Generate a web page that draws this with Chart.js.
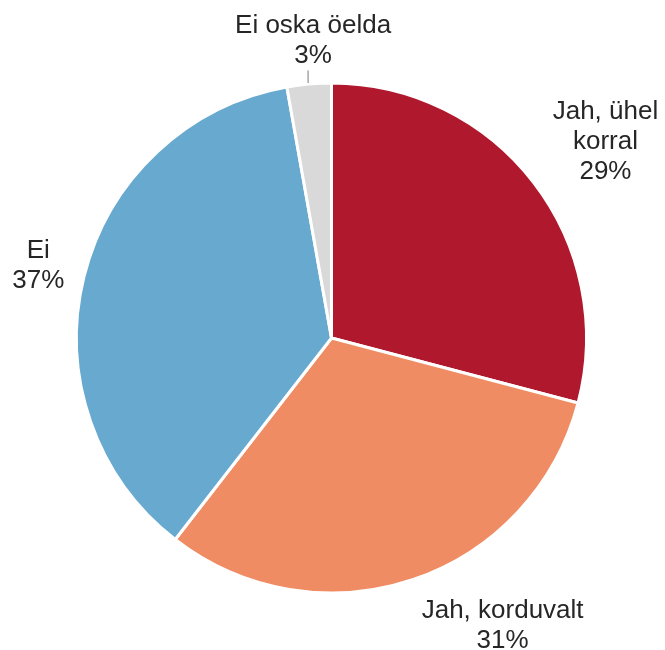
<!DOCTYPE html>
<html>
<head>
    <title>Pie</title>
    <script src="https://cdn.jsdelivr.net/npm/chart.js"></script>
    <style>
        html, body { margin: 0; padding: 0; background: #fff; }
        #wrap { width: 665px; height: 650px; }
    </style>
</head>
<body>
<div id="wrap"><canvas id="pie" width="665" height="650"></canvas></div>
<script>
    // andmed
    const labels = [['Jah, ühel', 'korral'], ['Jah, korduvalt'], ['Ei'], ['Ei oska öelda']];
    const values = [29.1, 31.4, 36.7, 2.8];
    const colors = ['#B0182E', '#F08C63', '#67A9CF', '#D9D9D9'];

    // sildi nihked: [lisanurk kraadides, kaugus keskpunktist]
    const labelPos = [[2, 337], [-12, 335], [0, 302], [1.5, 298]];

    const outsideLabels = {
        id: 'outsideLabels',
        afterDraw(chart) {
            const ctx = chart.ctx;
            const arcs = chart.getDatasetMeta(0).data;
            const total = values.reduce((a, b) => a + b, 0);
            ctx.save();
            ctx.font = '26px "Liberation Sans", Arial, sans-serif';
            ctx.fillStyle = '#262626';
            ctx.textAlign = 'center';
            ctx.textBaseline = 'middle';
            arcs.forEach((arc, i) => {
                const mid = (arc.startAngle + arc.endAngle) / 2 + labelPos[i][0] * Math.PI / 180;
                const cx = arc.x + Math.cos(mid) * labelPos[i][1];
                const cy = arc.y + Math.sin(mid) * labelPos[i][1];
                const lines = labels[i].concat([Math.round(values[i] / total * 100) + '%']);
                const lh = 30;
                const y0 = cy - (lines.length - 1) * lh / 2;
                lines.forEach((t, j) => ctx.fillText(t, cx, y0 + j * lh));
                // juhtjoon väikesele sektorile
                if (values[i] / total < 0.05) {
                    ctx.strokeStyle = '#A6A6A6';
                    ctx.lineWidth = 1.5;
                    ctx.beginPath();
                    ctx.moveTo(cx - 5, y0 + (lines.length - 1) * lh + 15);
                    ctx.lineTo(cx - 5, arc.y - arc.outerRadius);
                    ctx.stroke();
                }
            });
            ctx.restore();
        }
    };

    new Chart(document.getElementById('pie'), {
        type: 'pie',
        data: {
            labels: labels.map(l => l.join(' ')),
            datasets: [{
                data: values,
                backgroundColor: colors,
                borderColor: '#ffffff',
                borderWidth: 3
            }]
        },
        options: {
            responsive: false,
            animation: false,
            layout: { padding: { left: 75, right: 77, top: 81, bottom: 55 } },
            plugins: {
                legend: { display: false },
                tooltip: { enabled: false }
            }
        },
        plugins: [outsideLabels]
    });
</script>
</body>
</html>
